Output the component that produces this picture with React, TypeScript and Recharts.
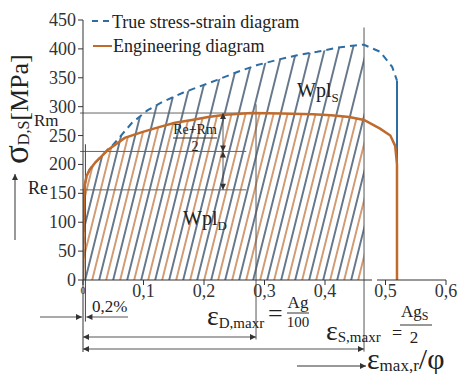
import React from 'react';
import { ComposedChart, Area, Line, XAxis, YAxis, ReferenceLine } from 'recharts';

// strain (e) / stress (s, MPa)
const xTicks = [0, 0.1, 0.2, 0.3, 0.4, 0.5, 0.6];
const yTicks = [0, 50, 100, 150, 200, 250, 300, 350, 400, 450];

const engineering = [
  { e: 0, s: 0 },
  { e: 0.0015, s: 140 },
  { e: 0.0033, s: 166 },
  { e: 0.006, s: 180 },
  { e: 0.011, s: 191 },
  { e: 0.02, s: 203 },
  { e: 0.041, s: 225 },
  { e: 0.069, s: 246 },
  { e: 0.0975, s: 256 },
  { e: 0.127, s: 265 },
  { e: 0.152, s: 272 },
  { e: 0.18, s: 277 },
  { e: 0.207, s: 282 },
  { e: 0.235, s: 286 },
  { e: 0.279, s: 289 },
  { e: 0.33, s: 288 },
  { e: 0.38, s: 287 },
  { e: 0.41, s: 285 },
  { e: 0.44, s: 282 },
  { e: 0.4645, s: 277 },
  { e: 0.491, s: 262 },
  { e: 0.508, s: 250 },
  { e: 0.516, s: 232 },
  { e: 0.519, s: 200 },
  { e: 0.519, s: 0 },
];

const trueCurve = [
  { e: 0, s: 0 },
  { e: 0.0015, s: 140 },
  { e: 0.0033, s: 166 },
  { e: 0.006, s: 180 },
  { e: 0.011, s: 191 },
  { e: 0.02, s: 203 },
  { e: 0.041, s: 226 },
  { e: 0.048, s: 232 },
  { e: 0.081, s: 272 },
  { e: 0.107, s: 294 },
  { e: 0.131, s: 308 },
  { e: 0.165, s: 324 },
  { e: 0.221, s: 346 },
  { e: 0.255, s: 360 },
  { e: 0.288, s: 372 },
  { e: 0.321, s: 381 },
  { e: 0.354, s: 389 },
  { e: 0.387, s: 395 },
  { e: 0.42, s: 402 },
  { e: 0.458, s: 407 },
  { e: 0.4645, s: 407 },
  { e: 0.491, s: 395 },
  { e: 0.511, s: 369 },
  { e: 0.519, s: 345 },
];

const trueFracture = [
  { e: 0.519, s: 345 },
  { e: 0.519, s: 0 },
];

const Re = 156;
const Rm = 289;
const epsD = 0.286;
const epsS = 0.4645;
const offsetStrain = 0.004; // 0,2% line, drawn a bit wider so it shows

const trueHatch = trueCurve.filter((p) => p.e <= epsS);
const engHatch = engineering.filter((p) => p.e <= epsS);

const BLUE = '#2d6da3';
const BROWN = '#c06a2b';
const HATCH_BLUE = '#233d5a';
const HATCH_ORANGE = '#bd7038';
const GREY = '#666';
const FONT = "'Liberation Serif', 'Times New Roman', 'DejaVu Serif', serif";
const serif = { fontFamily: FONT };

// pixel helpers for the overlay notes (same frame as the chart margins)
const X0 = 83;
const XW = 605;
const Y0 = 280;
const YH = 260;
const px = (e: number) => X0 + e * XW;
const py = (s: number) => Y0 - (s / 450) * YH;

const XTick = (props: any) => {
  const { x, y, payload } = props;
  const v = payload.value;
  if (v === 0) {
    return (
      <text x={x} y={y + 7} textAnchor="middle" fontSize={10} style={serif} fill="#333">
        0
      </text>
    );
  }
  return (
    <text x={x} y={y + 10} textAnchor="middle" fontSize={18} style={serif} fill="#333">
      {v.toFixed(1).replace('.', ',')}
    </text>
  );
};

const YTick = (props: any) => {
  const { x, y, payload } = props;
  return (
    <text x={x} y={y + 6} textAnchor="end" fontSize={18} style={serif} fill="#333">
      {payload.value}
    </text>
  );
};

const Notes = () => {
  const mid = (Re + Rm) / 2;
  const xArrow = 223;
  return (
    <svg
      width={461}
      height={374}
      style={{ position: 'absolute', left: 0, top: 0, pointerEvents: 'none', fontFamily: FONT }}
    >
      <defs>
        <marker
          id="ah"
          viewBox="0 0 10 10"
          refX="10"
          refY="5"
          markerWidth="7"
          markerHeight="6"
          markerUnits="userSpaceOnUse"
          orient="auto-start-reverse"
        >
          <path d="M0,0 L10,5 L0,10 z" fill="#333" />
        </marker>
      </defs>

      {/* legend */}
      <line x1={92} y1={21} x2={110} y2={21} stroke={BLUE} strokeWidth={2} strokeDasharray="6 5" />
      <text x={112} y={28} fontSize={18} fill="#222">True stress-strain diagram</text>
      <line x1={93} y1={46} x2={112} y2={46} stroke={BROWN} strokeWidth={2} />
      <text x={113} y={52} fontSize={18} fill="#222">Engineering diagram</text>

      {/* y title + arrow */}
      <text transform="translate(28,164) rotate(-90)" fill="#222">
        <tspan fontSize={35}>σ</tspan>
        <tspan fontSize={16} dy={1}>D,S</tspan>
        <tspan fontSize={26} dy={-1}>[MPa]</tspan>
      </text>
      <line x1={15} y1={240} x2={15} y2={174} stroke="#333" strokeWidth={1} markerEnd="url(#ah)" />

      <text x={34} y={126} fontSize={17} fill="#222">Rm</text>
      <text x={28} y={194} fontSize={18} fill="#222">Re</text>

      {/* x axis break */}
      <rect x={372} y={277} width={5} height={6} fill="#fff" />

      {/* y axis carried below for the dimension lines */}
      <line x1={X0} y1={Y0} x2={X0} y2={352} stroke="#333" strokeWidth={1} />

      {/* (Re+Rm)/2 */}
      <text x={195} y={134} fontSize={14} textAnchor="middle" fill="#222">Re+Rm</text>
      <line x1={173} y1={138} x2={217} y2={138} stroke="#333" strokeWidth={1} />
      <text x={195} y={151} fontSize={14} textAnchor="middle" fill="#222">2</text>
      <line x1={xArrow} y1={py(Rm)} x2={xArrow} y2={py(mid)} stroke="#333" strokeWidth={0.8} markerStart="url(#ah)" markerEnd="url(#ah)" />
      <line x1={xArrow} y1={py(mid)} x2={xArrow} y2={py(Re)} stroke="#333" strokeWidth={0.8} markerStart="url(#ah)" markerEnd="url(#ah)" />

      {/* work labels */}
      <text x={297} y={97} fontSize={20} fill="#222">
        Wpl<tspan fontSize={13} dy={5}>S</tspan>
      </text>
      <text x={183} y={225} fontSize={20} fill="#222">
        Wpl<tspan fontSize={13} dy={5}>D</tspan>
      </text>

      {/* 0,2% */}
      <line x1={40} y1={317} x2={X0 - 1} y2={317} stroke="#555" strokeWidth={1} markerEnd="url(#ah)" />
      <line x1={128} y1={317} x2={px(offsetStrain) + 1} y2={317} stroke="#555" strokeWidth={1} markerEnd="url(#ah)" />
      <text x={92} y={312} fontSize={17} fill="#222">0,2%</text>

      {/* strain dimension lines */}
      <line x1={X0} y1={337} x2={px(epsD)} y2={337} stroke="#555" strokeWidth={1} markerStart="url(#ah)" markerEnd="url(#ah)" />
      <line x1={X0} y1={349} x2={px(epsS)} y2={349} stroke="#555" strokeWidth={1} markerStart="url(#ah)" markerEnd="url(#ah)" />

      <text x={207} y={325} fill="#222">
        <tspan fontSize={28}>ε</tspan>
        <tspan fontSize={15} dy={3}>D,maxr</tspan>
      </text>
      <text x={268} y={322} fontSize={26} fill="#222">=</text>
      <text x={298} y={308} fontSize={17} textAnchor="middle" fill="#222">Ag</text>
      <line x1={287} y1={313} x2={309} y2={313} stroke="#333" strokeWidth={1} />
      <text x={298} y={327} fontSize={15} textAnchor="middle" fill="#222">100</text>

      <text x={326} y={340} fill="#222">
        <tspan fontSize={28}>ε</tspan>
        <tspan fontSize={15} dy={2}>S,maxr</tspan>
      </text>
      <text x={392} y={339} fontSize={18} fill="#222">=</text>
      <text x={401} y={317} fontSize={17} fill="#222">
        Ag<tspan fontSize={12} dy={3}>S</tspan>
      </text>
      <line x1={400} y1={325} x2={432} y2={325} stroke="#333" strokeWidth={1} />
      <text x={414} y={343} fontSize={17} textAnchor="middle" fill="#222">2</text>

      {/* x title */}
      <line x1={297} y1={366} x2={366} y2={366} stroke="#333" strokeWidth={1} markerEnd="url(#ah)" />
      <text x={367} y={369} fill="#222">
        <tspan fontSize={30}>ε</tspan>
        <tspan fontSize={17} dy={2}>max,r</tspan>
        <tspan fontSize={30} dy={-2}>/φ</tspan>
      </text>
    </svg>
  );
};

export default function App() {
  const mid = (Re + Rm) / 2;
  return (
    <div style={{ position: 'absolute', left: 0, top: 0, width: 461, height: 374, background: '#fff' }}>
      <ComposedChart width={461} height={374} margin={{ top: 20, right: 15, bottom: 64, left: 43 }}>
        <defs>
          <pattern id="hatchBlue" patternUnits="userSpaceOnUse" width={14} height={14} patternTransform="skewX(-14)">
            <line x1={1} y1={0} x2={1} y2={14} stroke={HATCH_BLUE} strokeWidth={1.4} />
          </pattern>
          <pattern id="hatchOrange" patternUnits="userSpaceOnUse" width={14} height={14} patternTransform="skewX(-14)">
            <line x1={8} y1={0} x2={8} y2={14} stroke={HATCH_ORANGE} strokeWidth={1.4} />
          </pattern>
        </defs>
        <XAxis
          type="number"
          dataKey="e"
          domain={[0, 0.6]}
          ticks={xTicks}
          interval={0}
          height={30}
          tickSize={5}
          tickMargin={2}
          axisLine={{ stroke: '#333' }}
          tickLine={{ stroke: '#333' }}
          tick={<XTick />}
          allowDataOverflow
        />
        <YAxis
          type="number"
          dataKey="s"
          domain={[0, 450]}
          ticks={yTicks}
          interval={0}
          width={40}
          tickSize={5}
          tickMargin={2}
          axisLine={{ stroke: '#333' }}
          tickLine={{ stroke: '#333' }}
          tick={<YTick />}
          allowDataOverflow
        />

        <Area data={trueHatch} dataKey="s" type="linear" stroke="none" fill="url(#hatchBlue)" fillOpacity={1} isAnimationActive={false} dot={false} activeDot={false} />
        <Area data={engHatch} dataKey="s" type="linear" stroke="none" fill="url(#hatchOrange)" fillOpacity={1} isAnimationActive={false} dot={false} activeDot={false} />

        <ReferenceLine segment={[{ x: -0.005, y: Rm }, { x: epsD, y: Rm }]} stroke={GREY} strokeWidth={1} ifOverflow="visible" />
        <ReferenceLine segment={[{ x: -0.005, y: mid }, { x: 0.27, y: mid }]} stroke={GREY} strokeWidth={1} ifOverflow="visible" />
        <ReferenceLine segment={[{ x: -0.005, y: Re }, { x: 0.27, y: Re }]} stroke={GREY} strokeWidth={1} ifOverflow="visible" />
        <ReferenceLine segment={[{ x: offsetStrain, y: 235 }, { x: offsetStrain, y: -72 }]} stroke="#444" strokeWidth={1} ifOverflow="visible" />
        <ReferenceLine segment={[{ x: epsD, y: 304 }, { x: epsD, y: -103 }]} stroke="#555" strokeWidth={1} ifOverflow="visible" />
        <ReferenceLine segment={[{ x: epsS, y: 437 }, { x: epsS, y: -124 }]} stroke="#555" strokeWidth={1} ifOverflow="visible" />

        <Line data={trueCurve} dataKey="s" type="linear" stroke={BLUE} strokeWidth={2} strokeDasharray="7 5" dot={false} activeDot={false} isAnimationActive={false} />
        <Line data={trueFracture} dataKey="s" type="linear" stroke={BLUE} strokeWidth={2} dot={false} activeDot={false} isAnimationActive={false} />
        <Line data={engineering} dataKey="s" type="linear" stroke={BROWN} strokeWidth={2.5} dot={false} activeDot={false} isAnimationActive={false} />
      </ComposedChart>
      <Notes />
    </div>
  );
}
